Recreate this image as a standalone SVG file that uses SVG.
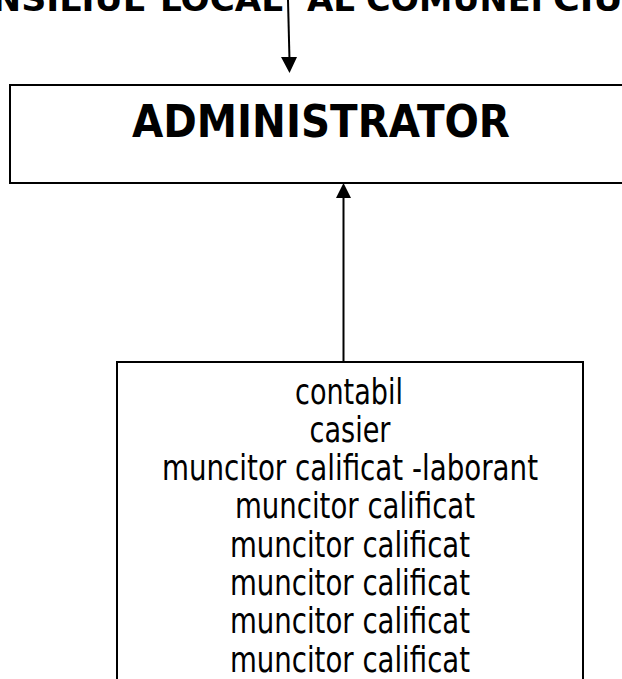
<svg xmlns="http://www.w3.org/2000/svg" width="622" height="679" viewBox="0 0 622 679">
<style>
.box{fill:#fff;stroke:#000;stroke-width:2}
.line{stroke:#000;stroke-width:2;fill:none}
.head{fill:#000}
.title{font-family:"DejaVu Sans",Verdana,sans-serif;font-weight:bold;font-size:34px;fill:#000}
.admin{font-family:"DejaVu Sans",Tahoma,sans-serif;font-weight:bold;font-size:44px;fill:#000}
.item{font-family:"DejaVu Sans",Tahoma,sans-serif;font-size:35px;fill:#000;text-anchor:middle}
</style>
<rect width="622" height="679" fill="#fff"/>
<g id="consiliu">
<text class="title" y="11"><tspan x="-8" textLength="153" lengthAdjust="spacingAndGlyphs">NSILIUL</tspan><tspan x="160" textLength="123" lengthAdjust="spacingAndGlyphs">LOCAL</tspan><tspan x="307" textLength="48" lengthAdjust="spacingAndGlyphs">AL</tspan><tspan x="366" textLength="177" lengthAdjust="spacingAndGlyphs">COMUNEI</tspan><tspan x="553" textLength="70" lengthAdjust="spacingAndGlyphs">CIU</tspan></text>
</g>
<g id="administrator">
<rect class="box" x="10" y="85" width="630" height="98"/>
<text class="admin" x="132" y="137" textLength="378" lengthAdjust="spacingAndGlyphs">ADMINISTRATOR</text>
</g>
<g id="personal">
<rect class="box" x="117" y="362" width="466" height="340"/>
<text class="item" x="349" y="404" textLength="108" lengthAdjust="spacingAndGlyphs">contabil</text>
<text class="item" x="350" y="442" textLength="81" lengthAdjust="spacingAndGlyphs">casier</text>
<text class="item" x="350" y="480" textLength="376" lengthAdjust="spacingAndGlyphs">muncitor calificat -laborant</text>
<text class="item" x="355" y="518" textLength="240" lengthAdjust="spacingAndGlyphs">muncitor calificat</text>
<text class="item" x="350" y="557" textLength="240" lengthAdjust="spacingAndGlyphs">muncitor calificat</text>
<text class="item" x="350" y="595" textLength="240" lengthAdjust="spacingAndGlyphs">muncitor calificat</text>
<text class="item" x="350" y="633" textLength="240" lengthAdjust="spacingAndGlyphs">muncitor calificat</text>
<text class="item" x="350" y="672" textLength="240" lengthAdjust="spacingAndGlyphs">muncitor calificat</text>
</g>
<g id="connectors">
<line class="line" x1="288" y1="0" x2="289.5" y2="60"/>
<polygon class="head" points="281,57 297,57 289.5,73"/>
<line class="line" x1="343.5" y1="362" x2="343.5" y2="196"/>
<polygon class="head" points="336,198 351,198 343.5,183"/>
</g>
</svg>
